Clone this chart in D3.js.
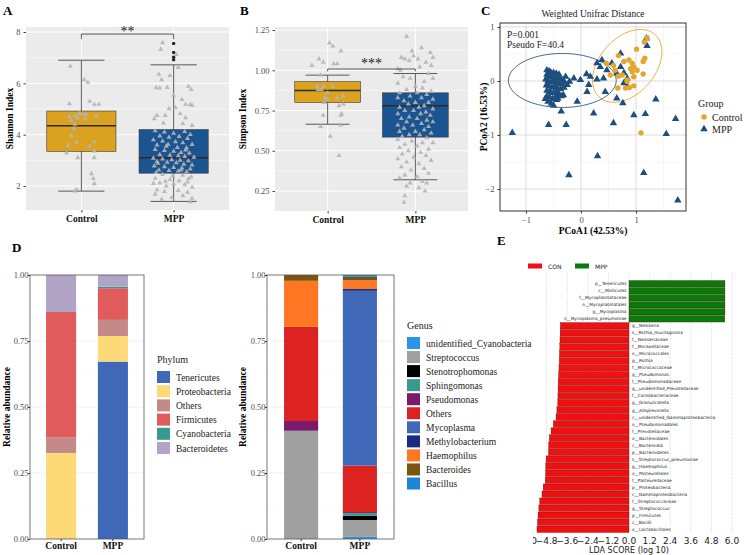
<!DOCTYPE html>
<html>
<head>
<meta charset="utf-8">
<script src="https://cdn.jsdelivr.net/npm/d3@7"></script>
<style>
body { margin: 0; background: #fff; }
</style>
</head>
<body>
<script>
// ---------- data ----------
var groups = ["Control", "MPP"];
var groupColors = ["#DAA21F", "#1B5591"];

// box stats: [lower whisker, q1, median, q3, upper whisker]
var shannonBox = [[1.8, 3.35, 4.35, 4.92, 6.9], [1.4, 2.5, 3.1, 4.2, 6.72]];
var shannonOutliers = [7.55, 7.2, 7.02, 6.92];
// jittered samples: [offset in category steps, value]
var shannonCtrl = [[-0.12,6.66],[0.03,6.14],[0.07,6.04],[-0.13,5.2],[0.09,5.3],[0.14,5.17],[0.19,5.18],
  [-0.13,4.7],[-0.07,4.75],[-0.02,4.82],[0.01,4.8],[0.05,4.8],[0.04,4.62],[-0.04,4.65],[0.16,4.7],
  [-0.11,4.56],[-0.07,4.4],[-0.08,4.23],[-0.11,3.97],[-0.05,3.71],[-0.14,3.58],[0.09,3.55],[0.14,3.72],
  [0.14,3.36],[-0.16,3.29],[-0.04,3.1],[0.14,3.1],[0.11,2.48],[0.13,2.29],[0.14,2.09],[-0.05,1.86],[-0.07,1.8]];
var shannonMpp = [[-0.12,7.58],[-0.14,7.33],[0.03,7.12],[0.05,6.62],[-0.04,6.3],[-0.16,6.35],[-0.13,6.14],
  [-0.15,5.82],[-0.19,5.83],[-0.07,5.84],[0.16,5.88],[0.19,5.76],[0.0,5.53],[0.09,5.37],[0.18,5.17],
  [0.2,5.14],[0.13,5.18],[0.02,5.05],[-0.05,5.01],[-0.09,4.75],[-0.18,4.75],[0.07,4.82],[0.13,4.66],
  [0.1,4.43],[0.2,4.36],[-0.21,4.62],[-0.11,4.45],
  [-0.2,4.15],[-0.1,4.1],[0.0,4.05],[0.12,4.12],[0.18,4.0],[-0.15,3.95],[-0.05,3.9],[0.06,3.93],
  [0.15,3.85],[-0.22,3.8],[-0.12,3.75],[0.02,3.72],[0.1,3.68],[0.2,3.62],[-0.18,3.6],[-0.08,3.55],
  [0.04,3.5],[0.14,3.48],[-0.2,3.42],[-0.1,3.38],[0.0,3.35],[0.08,3.3],[0.17,3.28],[-0.15,3.22],
  [-0.04,3.2],[0.05,3.18],[0.12,3.15],[0.22,3.12],[-0.22,3.08],[-0.12,3.05],[-0.02,3.02],[0.07,3.0],
  [0.16,2.98],[-0.18,2.95],[-0.07,2.92],[0.03,2.9],[0.11,2.85],[0.2,2.82],[-0.21,2.78],[-0.1,2.75],
  [0.0,2.72],[0.09,2.7],[0.18,2.66],[-0.16,2.62],[-0.05,2.6],[0.05,2.58],[0.14,2.55],[-0.19,2.52],
  [-0.12,2.45],[0.1,2.42],[0.19,2.35],[-0.2,2.3],[-0.04,2.25],[0.06,2.2],[0.15,2.15],[-0.15,2.12],
  [-0.22,2.1],[0.0,2.08],[0.12,2.05],[-0.08,2.0],[0.2,1.95],[-0.18,1.85],[0.05,1.82],[-0.1,1.78],
  [0.15,1.75],[-0.2,1.68],[0.1,1.62],[-0.02,1.55],[0.2,1.52],[-0.13,1.48],[0.18,1.38],
  [-0.06,3.62],[0.13,3.4],[-0.17,2.88],[0.08,2.62],[-0.01,2.4],[0.16,2.28],[-0.09,2.18]];

var simpsonBox = [[0.665, 0.80, 0.875, 0.93, 0.97], [0.32, 0.585, 0.78, 0.86, 0.98]];
var simpsonCtrl = [[0.02,1.17],[0.06,1.15],[0.15,1.12],[-0.18,1.03],[-0.1,1.07],[-0.05,1.05],[0.07,1.04],
  [0.11,1.04],[-0.08,0.97],[-0.12,0.9],[-0.05,0.9],[0.06,0.9],[-0.07,0.88],[-0.11,0.88],[0.0,0.86],
  [0.11,0.83],[0.18,0.84],[-0.03,0.83],[0.0,0.82],[-0.04,0.8],[0.13,0.78],[0.18,0.79],[-0.05,0.72],
  [0.16,0.73],[0.15,0.72],[-0.08,0.65],[0.15,0.66],[0.03,0.59],[0.13,0.47]];
var simpsonMpp = [[-0.1,1.21],[0.07,1.14],[-0.04,1.12],[0.17,1.11],[0.2,1.08],[-0.16,1.08],[-0.12,1.07],
  [-0.02,1.09],[0.03,1.07],[-0.07,1.06],[0.12,1.05],[0.18,1.03],[-0.2,1.01],[-0.17,1.0],[0.05,1.02],
  [0.15,0.98],[-0.14,0.96],[0.2,0.95],[-0.06,0.95],[0.1,0.93],[-0.2,0.92],
  [0.0,0.9],[0.08,0.89],[-0.1,0.88],[0.18,0.87],[-0.18,0.86],[0.02,0.86],[0.13,0.85],[-0.06,0.84],
  [-0.2,0.83],[0.07,0.83],[0.2,0.82],[-0.13,0.81],[0.0,0.8],[0.15,0.8],[-0.08,0.79],[0.1,0.78],
  [-0.18,0.77],[0.04,0.77],[0.2,0.76],[-0.12,0.75],[-0.02,0.75],[0.12,0.74],[-0.2,0.73],[0.06,0.73],
  [0.17,0.72],[-0.07,0.71],[-0.16,0.7],[0.02,0.7],[0.13,0.69],[-0.1,0.68],[0.2,0.68],[0.07,0.67],
  [-0.2,0.66],[-0.03,0.66],[0.15,0.65],[-0.13,0.64],[0.1,0.63],[0.0,0.62],[-0.18,0.62],[0.18,0.61],
  [-0.07,0.6],[0.05,0.6],[-0.15,0.59],[0.13,0.58],
  [-0.2,0.57],[-0.04,0.56],[0.08,0.55],[0.2,0.55],[-0.12,0.54],[0.02,0.53],[-0.18,0.52],[0.15,0.51],
  [-0.08,0.5],[0.06,0.49],[-0.15,0.48],[0.12,0.47],[-0.02,0.46],[-0.2,0.45],[0.18,0.44],[-0.1,0.43],
  [0.04,0.42],[-0.16,0.4],[0.1,0.39],[-0.05,0.38],[0.15,0.36],[-0.12,0.35],[0.02,0.34],[-0.18,0.33],
  [0.08,0.31],[-0.06,0.3],[0.13,0.3],[-0.1,0.28],[0.04,0.27],[0.11,0.25],[-0.12,0.22],[-0.13,0.18]];

// PCoA coordinates
var pcoaCtrl = [[1.2,0.8],[1.15,0.72],[1.01,0.59],[1.16,0.42],[1.13,0.36],[0.68,0.47],[0.78,0.36],
  [0.87,0.39],[0.93,0.33],[0.96,0.26],[0.9,0.23],[0.46,0.33],[0.59,0.29],[0.62,0.2],[0.53,0.11],
  [0.75,0.11],[0.96,0.08],[1.13,0.13],[0.84,0.02],[0.81,-0.13],[0.67,-0.13],[0.88,-0.12],[0.96,-0.09],
  [0.84,-0.01],[1.09,-0.96],[0.68,0.09],[1.02,0.2],[0.93,0.17]];
var pcoaMpp = [[-1.25,-0.96],[-0.59,-0.81],[-0.27,-0.81],[-0.36,-0.56],[-0.22,-1.74],[0.3,-1.39],
  [0.23,-0.6],[0.59,-0.78],[0.76,-0.41],[0.65,-0.32],[0.96,-0.63],[1.17,-0.61],[1.36,-0.34],[1.14,-1.7],
  [1.55,-0.98],[1.72,-0.7],[1.76,-2.21],[1.19,0.79],[1.2,0.65],[0.72,0.51],[0.38,0.39],[0.29,0.33],
  [0.56,0.33],[0.72,0.26],[0.47,0.2],[0.35,0.26],[0.65,0.14],[0.78,0.15],[0.84,0.05],[0.41,0.05],
  [0.17,0.08],[0.1,0.13],[-0.01,0.02],[-0.13,0.05],[-0.21,-0.01],[0.14,-0.07],[0.11,-0.2],[0.44,-0.2],
  [-0.07,-0.38],[-0.32,-0.26],[-0.44,-0.35],[-0.25,-0.07],[0.84,-0.1],[0.29,0.03],[0.78,-0.04],
  [-0.62,0.2],[-0.58,0.18],[-0.55,0.16],[-0.5,0.15],[-0.45,0.14],[-0.4,0.12],[-0.62,0.12],[-0.6,0.08],
  [-0.56,0.1],[-0.52,0.07],[-0.47,0.05],[-0.42,0.06],[-0.38,0.03],[-0.34,0.02],[-0.64,0.03],[-0.6,0.0],
  [-0.55,-0.02],[-0.5,0.0],[-0.45,-0.03],[-0.4,-0.05],[-0.35,-0.06],[-0.63,-0.08],[-0.58,-0.1],
  [-0.53,-0.12],[-0.48,-0.1],[-0.43,-0.13],[-0.37,-0.15],[-0.31,-0.12],[-0.62,-0.18],[-0.56,-0.2],
  [-0.5,-0.22],[-0.45,-0.2],[-0.4,-0.24],[-0.62,-0.28],[-0.57,-0.3],[-0.52,-0.33],[-0.47,-0.3],
  [-0.6,-0.38],[-0.54,-0.42],[-0.5,-0.45],[-0.42,-0.32],[-0.35,-0.28],[-0.65,-0.33],[-0.3,-0.02],[-0.28,0.08]];
// confidence ellipses: [cx, cy, semi-major, semi-minor, angle deg]
var ellipseCtrl = [0.84, 0.28, 0.77, 0.51, 50];
var ellipseMpp = [-0.34, 0.01, 0.98, 0.5, 0];

var phyla = ["Tenericutes", "Proteobacteria", "Others", "Firmicutes", "Cyanobacteria", "Bacteroidetes"];
var phylumColors = ["#4068B8", "#FDD977", "#C48A8A", "#E05B5B", "#389A8E", "#B2A4C7"];
var phylumCtrl = [0.0, 0.326, 0.058, 0.477, 0.002, 0.137];
var phylumMpp = [0.672, 0.097, 0.061, 0.12, 0.006, 0.044];

var genera = ["unidentified_Cyanobacteria", "Streptococcus", "Stenotrophomonas", "Sphingomonas", "Pseudomonas",
  "Others", "Mycoplasma", "Methylobacterium", "Haemophilus", "Bacteroides", "Bacillus"];
var genusColors = ["#2B93E8", "#A0A0A0", "#000000", "#389A8E", "#7A1A6E", "#DD2222", "#4068B8", "#182D80",
  "#FF7722", "#7A5410", "#1E86D6"];
var genusCtrl = [0, 0.41, 0, 0, 0.037, 0.357, 0, 0, 0.174, 0.022, 0];
var genusMpp = [0.008, 0.064, 0.016, 0.01, 0.004, 0.176, 0.662, 0.007, 0.033, 0.013, 0.007];

var ldaTaxa = ["p__Tenericutes", "c__Mollicutes", "f__Mycoplasmataceae", "o__Mycoplasmatales", "g__Mycoplasma",
  "s__Mycoplasma_pneumoniae", "g__Neisseria", "s__Rothia_mucilaginosa", "f__Neisseriaceae", "f__Moraxellaceae",
  "o__Micrococcales", "g__Rothia", "f__Micrococcaceae", "g__Pseudomonas", "f__Pseudomonadaceae",
  "g__unidentified_Prevotellaceae", "f__Carnobacteriaceae", "g__Granulicatella", "g__Alloprevotella",
  "c__unidentified_Gammaproteobacteria", "o__Pseudomonadales", "f__Prevotellaceae", "o__Bacteroidales",
  "c__Bacteroidia", "p__Bacteroidetes", "s__Streptococcus_pneumoniae", "g__Haemophilus", "o__Pasteurellales",
  "f__Pasteurellaceae", "p__Proteobacteria", "c__Gammaproteobacteria", "f__Streptococcaceae", "g__Streptococcus",
  "p__Firmicutes", "c__Bacilli", "o__Lactobacillales"];
var ldaScores = [5.59, 5.59, 5.59, 5.59, 5.59, 5.58, -4.0, -4.01, -4.02, -4.03, -4.05, -4.06, -4.08, -4.1,
  -4.12, -4.13, -4.14, -4.15, -4.2, -4.25, -4.41, -4.54, -4.64, -4.68, -4.69, -4.83, -4.85, -4.86, -4.88,
  -5.0, -5.07, -5.2, -5.25, -5.3, -5.33, -5.36];
var ldaTicks = [-6, -4.8, -3.6, -2.4, -1.2, 0, 1.2, 2.4, 3.6, 4.8, 6];

// ---------- drawing ----------
var serif = "'Liberation Serif', 'Times New Roman', serif";
var sans = "'DejaVu Sans', sans-serif";

var svg = d3.select("body").append("svg")
    .attr("width", 750)
    .attr("height", 555)
    .style("font-family", serif);

function panelLabel(txt, x, y) {
    svg.append("text").attr("x", x).attr("y", y).text(txt)
        .style("font-size", "13px").style("font-weight", "bold");
}

// ggplot-like boxplot with jitter
function boxPanel(p) {
    var g = svg.append("g").attr("transform", "translate(" + p.left + "," + p.top + ")");
    var x = d3.scalePoint().domain(groups).range([0, p.w]).padding(0.6);
    var y = d3.scaleLinear().domain(p.domain).range([p.h, 0]);
    var step = x.step();

    g.append("rect").attr("width", p.w).attr("height", p.h).attr("fill", "#EBEBEB");
    g.selectAll(".minor").data(p.minor).enter().append("line")
        .attr("x1", 0).attr("x2", p.w).attr("y1", y).attr("y2", y)
        .attr("stroke", "#fff").attr("stroke-width", 0.5);
    g.selectAll(".major").data(p.ticks).enter().append("line")
        .attr("x1", 0).attr("x2", p.w).attr("y1", y).attr("y2", y)
        .attr("stroke", "#fff").attr("stroke-width", 1);
    g.selectAll(".vgrid").data(groups).enter().append("line")
        .attr("x1", x).attr("x2", x).attr("y1", 0).attr("y2", p.h)
        .attr("stroke", "#fff").attr("stroke-width", 1);

    // axes
    var yAxis = g.append("g").call(d3.axisLeft(y).tickValues(p.ticks).tickFormat(d3.format(p.fmt)).tickSize(2.5));
    yAxis.select(".domain").remove();
    yAxis.selectAll("line").attr("stroke", "#444");
    yAxis.selectAll("text").attr("fill", "#4D4D4D").style("font-family", serif).style("font-size", "8.5px");
    var xAxis = g.append("g").attr("transform", "translate(0," + p.h + ")").call(d3.axisBottom(x).tickSize(2.5));
    xAxis.select(".domain").remove();
    xAxis.selectAll("line").attr("stroke", "#444");
    xAxis.selectAll("text").attr("fill", "#111").style("font-family", serif)
        .style("font-size", "9.5px").style("font-weight", "bold");

    svg.append("text")
        .attr("transform", "translate(" + p.titleX + "," + (p.top + p.h / 2) + ") rotate(-90)")
        .attr("text-anchor", "middle").text(p.title)
        .style("font-size", "9.5px").style("font-weight", "bold");

    // whiskers + boxes
    var box = g.selectAll(".box").data(p.stats).enter().append("g")
        .attr("transform", function(d, i) { return "translate(" + x(groups[i]) + ",0)"; });
    box.append("line").attr("y1", function(d) { return y(d[0]); }).attr("y2", function(d) { return y(d[4]); })
        .attr("stroke", "#333").attr("stroke-width", 0.8);
    [0, 4].forEach(function(k) {
        box.append("line").attr("x1", -step * 0.25).attr("x2", step * 0.25)
            .attr("y1", function(d) { return y(d[k]); }).attr("y2", function(d) { return y(d[k]); })
            .attr("stroke", "#333").attr("stroke-width", 0.8);
    });
    box.append("rect")
        .attr("x", -step * 0.375).attr("width", step * 0.75)
        .attr("y", function(d) { return y(d[3]); })
        .attr("height", function(d) { return y(d[1]) - y(d[3]); })
        .attr("fill", function(d, i) { return groupColors[i]; })
        .attr("stroke", "#3a3a3a").attr("stroke-width", 0.6);
    box.append("line").attr("x1", -step * 0.375).attr("x2", step * 0.375)
        .attr("y1", function(d) { return y(d[2]); }).attr("y2", function(d) { return y(d[2]); })
        .attr("stroke", "#2a2a2a").attr("stroke-width", 1.5);

    // jittered samples
    var tri = d3.symbol().type(d3.symbolTriangle).size(11);
    p.pts.forEach(function(set, i) {
        g.selectAll(null).data(set).enter().append("path")
            .attr("d", tri)
            .attr("transform", function(d) { return "translate(" + (x(groups[i]) + d[0] * step) + "," + y(d[1]) + ")"; })
            .attr("fill", "#B5B5B5").attr("opacity", 0.9);
    });
    if (p.outliers) {
        g.selectAll(".out").data(p.outliers).enter().append("circle")
            .attr("cx", x("MPP")).attr("cy", y).attr("r", 1.7).attr("fill", "#222");
    }

    // significance bracket
    var b = p.bracket;
    g.append("path")
        .attr("d", "M" + x("Control") + "," + y(b[1]) + "V" + y(b[0]) + "H" + x("MPP") + "V" + y(b[1]))
        .attr("fill", "none").attr("stroke", "#333").attr("stroke-width", 0.8);
    g.append("text").attr("x", (x("Control") + x("MPP")) / 2).attr("y", y(b[0]) + p.starDy)
        .attr("text-anchor", "middle").text(p.star).style("font-size", "14px").attr("fill", "#222");
}

boxPanel({ left: 26, top: 27, w: 203, h: 183, domain: [1.065, 8.195], ticks: [2, 4, 6, 8], minor: [3, 5, 7],
    fmt: "d", title: "Shannon Index", titleX: 13, stats: shannonBox, pts: [shannonCtrl, shannonMpp],
    outliers: shannonOutliers, bracket: [7.92, 7.72], star: "**", starDy: 2 });
boxPanel({ left: 275, top: 27, w: 193, h: 184, domain: [0.126, 1.269], ticks: [0.25, 0.5, 0.75, 1.0, 1.25],
    minor: [0.375, 0.625, 0.875, 1.125], fmt: ".2f", title: "Simpson Index", titleX: 246,
    stats: simpsonBox, pts: [simpsonCtrl, simpsonMpp], outliers: null, bracket: [1.008, 0.993],
    star: "***", starDy: -1 });

// ---------- C: PCoA ----------
(function() {
    var left = 500, top = 23, w = 186, h = 188;
    var g = svg.append("g").attr("transform", "translate(" + left + "," + top + ")");
    var x = d3.scaleLinear().domain([-1.473, 1.909]).range([0, w]);
    var y = d3.scaleLinear().domain([-2.407, 1.074]).range([h, 0]);

    g.append("rect").attr("width", w).attr("height", h).attr("fill", "#fff");
    [-0.5, 0.5, 1.5].forEach(function(v) {
        g.append("line").attr("x1", x(v)).attr("x2", x(v)).attr("y1", 0).attr("y2", h).attr("stroke", "#EFEFEF").attr("stroke-width", 0.5);
    });
    [-1.5, -0.5, 0.5].forEach(function(v) {
        g.append("line").attr("y1", y(v)).attr("y2", y(v)).attr("x1", 0).attr("x2", w).attr("stroke", "#EFEFEF").attr("stroke-width", 0.5);
    });
    [-1, 0, 1].forEach(function(v) {
        g.append("line").attr("x1", x(v)).attr("x2", x(v)).attr("y1", 0).attr("y2", h).attr("stroke", "#DDDDDD").attr("stroke-width", 1);
    });
    [-2, -1, 0, 1].forEach(function(v) {
        g.append("line").attr("y1", y(v)).attr("y2", y(v)).attr("x1", 0).attr("x2", w).attr("stroke", "#DDDDDD").attr("stroke-width", 1);
    });

    function ellipsePath(e) {
        var th = e[4] * Math.PI / 180;
        var pts = d3.range(0, 361, 4).map(function(t) {
            var a = t * Math.PI / 180;
            var ex = e[2] * Math.cos(a), ey = e[3] * Math.sin(a);
            return [x(e[0] + ex * Math.cos(th) - ey * Math.sin(th)), y(e[1] + ex * Math.sin(th) + ey * Math.cos(th))];
        });
        return d3.line()(pts);
    }
    g.append("path").attr("d", ellipsePath(ellipseMpp)).attr("fill", "none").attr("stroke", "#2F5C86").attr("stroke-width", 0.9);
    g.append("path").attr("d", ellipsePath(ellipseCtrl)).attr("fill", "none").attr("stroke", "#DFA935").attr("stroke-width", 0.9);

    var tri = d3.symbol().type(d3.symbolTriangle).size(24);
    g.selectAll(".mpp").data(pcoaMpp).enter().append("path").attr("d", tri)
        .attr("transform", function(d) { return "translate(" + x(d[0]) + "," + y(d[1]) + ")"; })
        .attr("fill", "#1D4F7E");
    g.selectAll(".ctrl").data(pcoaCtrl).enter().append("circle")
        .attr("cx", function(d) { return x(d[0]); }).attr("cy", function(d) { return y(d[1]); })
        .attr("r", 2.7).attr("fill", "#E2A82E");

    g.append("rect").attr("width", w).attr("height", h).attr("fill", "none").attr("stroke", "#333").attr("stroke-width", 1);

    var xa = g.append("g").attr("transform", "translate(0," + h + ")")
        .call(d3.axisBottom(x).tickValues([-1, 0, 1]).tickFormat(d3.format("d")).tickSize(2.5));
    var ya = g.append("g").call(d3.axisLeft(y).tickValues([-2, -1, 0, 1]).tickFormat(d3.format("d")).tickSize(2.5));
    [xa, ya].forEach(function(a) {
        a.select(".domain").remove();
        a.selectAll("line").attr("stroke", "#333");
        a.selectAll("text").attr("fill", "#4D4D4D").style("font-family", serif).style("font-size", "8.5px");
    });

    svg.append("text").attr("x", left + w / 2).attr("y", 17).attr("text-anchor", "middle")
        .text("Weighted Unifrac Distance").style("font-size", "9.5px").attr("fill", "#222");
    svg.append("text").attr("x", left + w / 2).attr("y", 234).attr("text-anchor", "middle")
        .text("PCoA1 (42.53%)").style("font-size", "9.5px").style("font-weight", "bold");
    svg.append("text").attr("transform", "translate(487," + (top + h / 2) + ") rotate(-90)").attr("text-anchor", "middle")
        .text("PCoA2 (16.53%)").style("font-size", "9.5px").style("font-weight", "bold");
    svg.append("text").attr("x", 507).attr("y", 38).text("P=0.001").style("font-size", "9.5px").attr("fill", "#222");
    svg.append("text").attr("x", 507).attr("y", 48).text("Pseudo F=40.4").style("font-size", "9.5px").attr("fill", "#222");

    // legend
    svg.append("text").attr("x", 698).attr("y", 107).text("Group").style("font-size", "10px").attr("fill", "#222");
    svg.append("circle").attr("cx", 704).attr("cy", 117).attr("r", 2.7).attr("fill", "#E2A82E");
    svg.append("path").attr("d", tri).attr("transform", "translate(704,129)").attr("fill", "#1D4F7E");
    svg.append("text").attr("x", 712).attr("y", 120.5).text("Control").style("font-size", "10px").attr("fill", "#222");
    svg.append("text").attr("x", 712).attr("y", 132.5).text("MPP").style("font-size", "10px").attr("fill", "#222");
})();

// ---------- D: stacked bars ----------
function stackPanel(p) {
    var g = svg.append("g").attr("transform", "translate(" + p.left + "," + p.top + ")");
    var x = d3.scaleBand().domain(groups).range([0, p.w]).paddingInner(p.pi).paddingOuter(p.po);
    var y = d3.scaleLinear().domain([0, 1]).range([p.h, 0]);

    [0.125, 0.375, 0.625, 0.875].forEach(function(v) {
        g.append("line").attr("x1", 0).attr("x2", p.w).attr("y1", y(v)).attr("y2", y(v)).attr("stroke", "#F4F4F4").attr("stroke-width", 0.5);
    });
    [0.25, 0.5, 0.75].forEach(function(v) {
        g.append("line").attr("x1", 0).attr("x2", p.w).attr("y1", y(v)).attr("y2", y(v)).attr("stroke", "#EDEDED").attr("stroke-width", 0.8);
    });
    groups.forEach(function(k) {
        g.append("line").attr("x1", x(k) + x.bandwidth() / 2).attr("x2", x(k) + x.bandwidth() / 2)
            .attr("y1", 0).attr("y2", p.h).attr("stroke", "#EDEDED").attr("stroke-width", 0.8);
    });

    var rows = [p.ctrl, p.mpp].map(function(vals, i) {
        var r = { group: groups[i] };
        p.keys.forEach(function(k, j) { r[k] = vals[j]; });
        return r;
    });
    var series = d3.stack().keys(p.keys)(rows);
    g.selectAll(".layer").data(series).enter().append("g")
        .attr("fill", function(d, i) { return p.colors[i]; })
        .selectAll("rect").data(function(d) { return d; }).enter().append("rect")
        .attr("x", function(d) { return x(d.data.group); })
        .attr("width", x.bandwidth())
        .attr("y", function(d) { return y(d[1]); })
        .attr("height", function(d) { return y(d[0]) - y(d[1]); });

    g.append("rect").attr("width", p.w).attr("height", p.h).attr("fill", "none").attr("stroke", "#555").attr("stroke-width", 0.8);

    var ya = g.append("g").call(d3.axisLeft(y).tickValues([0, 0.25, 0.5, 0.75, 1]).tickFormat(d3.format(".2f")).tickSize(2));
    ya.select(".domain").remove();
    ya.selectAll("line").attr("stroke", "#333");
    ya.selectAll("text").attr("fill", "#4D4D4D").attr("x", -1.5).style("font-family", serif).style("font-size", "8.5px");
    var xa = g.append("g").attr("transform", "translate(0," + p.h + ")").call(d3.axisBottom(x).tickSize(2));
    xa.select(".domain").remove();
    xa.selectAll("line").attr("stroke", "#333");
    xa.selectAll("text").attr("fill", "#111").attr("y", 3.5).style("font-family", serif)
        .style("font-size", "9.5px").style("font-weight", "bold");

    svg.append("text").attr("transform", "translate(" + p.titleX + "," + (p.top + p.h / 2) + ") rotate(-90)")
        .attr("text-anchor", "middle").text("Relative abundance").style("font-size", "9.5px").style("font-weight", "bold");

    // legend
    var lg = svg.append("g").attr("transform", "translate(" + p.legX + "," + p.legY + ")");
    lg.append("text").attr("x", 0).attr("y", -8).text(p.legTitle).style("font-size", "10px").attr("fill", "#222");
    var item = lg.selectAll(".item").data(p.keys).enter().append("g")
        .attr("transform", function(d, i) { return "translate(0," + (i * p.legStep) + ")"; });
    item.append("rect").attr("width", 13).attr("height", 12).attr("fill", function(d, i) { return p.colors[i]; });
    item.append("text").attr("x", 19).attr("y", 9.5).text(function(d) { return d; })
        .style("font-size", "9.5px").attr("fill", "#222");
}

stackPanel({ left: 30, top: 275, w: 114, h: 264, pi: 0.42, po: 0.31, keys: phyla, colors: phylumColors,
    ctrl: phylumCtrl, mpp: phylumMpp, titleX: 10, legX: 157, legY: 371, legStep: 14.2, legTitle: "Phylum" });
stackPanel({ left: 267, top: 275, w: 127, h: 264, pi: 0.42, po: 0.29, keys: genera, colors: genusColors,
    ctrl: genusCtrl, mpp: genusMpp, titleX: 246, legX: 407, legY: 337, legStep: 14.05, legTitle: "Genus" });

// ---------- E: LDA ----------
(function() {
    svg.append("clipPath").attr("id", "clipE").append("rect").attr("x", 533).attr("y", 250).attr("width", 217).attr("height", 305);
    var g = svg.append("g").attr("clip-path", "url(#clipE)").style("font-family", sans);
    var x = d3.scaleLinear().domain([-6, 6]).range([526, 732]);
    var y = d3.scaleBand().domain(ldaTaxa).range([280.5, 532.5]).paddingInner(0.08);

    g.selectAll(".grid").data(ldaTicks).enter().append("line")
        .attr("x1", x).attr("x2", x).attr("y1", 273).attr("y2", 533)
        .attr("stroke", "#BBBBBB").attr("stroke-width", 0.6).attr("stroke-dasharray", "1,1.5");

    g.selectAll(".bar").data(ldaScores).enter().append("rect")
        .attr("x", function(d) { return x(Math.min(0, d)); })
        .attr("width", function(d) { return Math.abs(x(d) - x(0)); })
        .attr("y", function(d, i) { return y(ldaTaxa[i]); })
        .attr("height", y.bandwidth())
        .attr("fill", function(d) { return d > 0 ? "#0A7A0A" : "#EE1111"; })
        .attr("stroke", "#4a0000").attr("stroke-width", 0.3);

    g.selectAll(".lab").data(ldaScores).enter().append("text")
        .attr("x", function(d) { return d > 0 ? x(0) - 2.5 : x(0) + 3; })
        .attr("y", function(d, i) { return y(ldaTaxa[i]) + y.bandwidth() / 2 + 1.5; })
        .attr("text-anchor", function(d) { return d > 0 ? "end" : "start"; })
        .text(function(d, i) { return ldaTaxa[i]; })
        .style("font-size", "4.3px").attr("fill", "#222");

    g.selectAll(".tick").data(ldaTicks).enter().append("text")
        .attr("x", x).attr("y", 544).attr("text-anchor", "middle")
        .text(d3.format(".1f")).style("font-size", "9px").attr("fill", "#222");
    g.append("text").attr("x", x(0)).attr("y", 553).attr("text-anchor", "middle")
        .text("LDA SCORE (log 10)").style("font-size", "8px").attr("fill", "#222");

    // legend
    var lg = svg.append("g").style("font-family", sans);
    lg.append("rect").attr("x", 528).attr("y", 263.5).attr("width", 14).attr("height", 5).attr("fill", "#EE1111");
    lg.append("text").attr("x", 548).attr("y", 268.5).text("CON").style("font-size", "6px").attr("fill", "#222");
    lg.append("rect").attr("x", 575).attr("y", 263.5).attr("width", 14).attr("height", 5).attr("fill", "#0A7A0A");
    lg.append("text").attr("x", 595).attr("y", 268.5).text("MPP").style("font-size", "6px").attr("fill", "#222");
})();

panelLabel("A", 3, 15);
panelLabel("B", 240, 15);
panelLabel("C", 481, 15);
panelLabel("D", 12, 252);
panelLabel("E", 497, 245);
</script>
</body>
</html>
